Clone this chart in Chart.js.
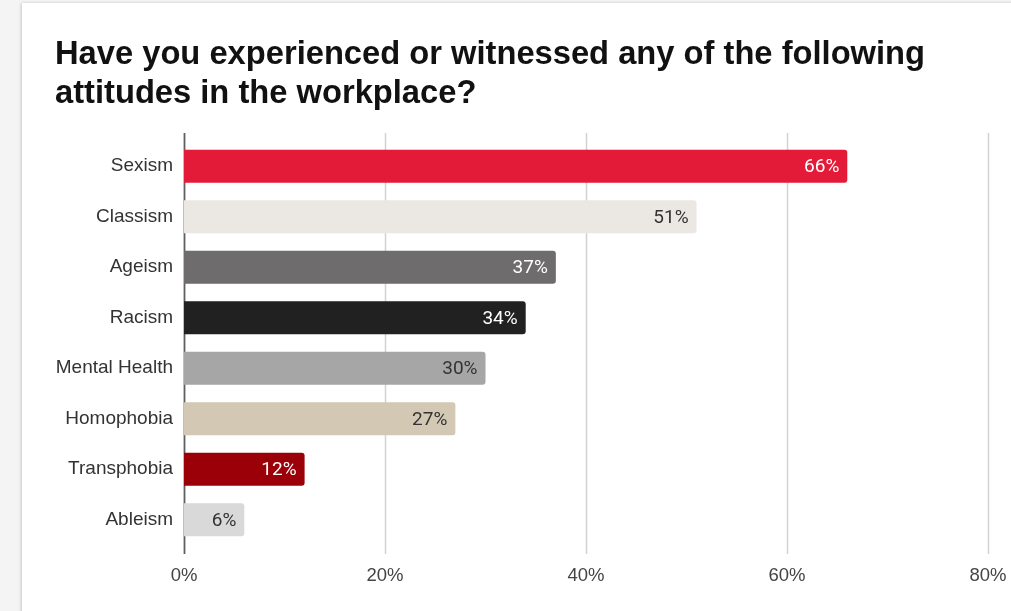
<!DOCTYPE html>
<html>
<head>
<meta charset="utf-8">
<script src="https://cdn.jsdelivr.net/npm/chart.js@4"></script>
<style>
  html, body { margin: 0; padding: 0; background: #f4f4f4; overflow: hidden; }
  #card {
    position: absolute; left: 22px; top: 3px; width: 1100px; height: 700px;
    background: #ffffff; box-shadow: -1px 0 3px rgba(0,0,0,0.18);
  }
  #wrap { position: absolute; left: 0; top: 0; width: 1011px; height: 611px; }
</style>
</head>
<body>
<div id="card"></div>
<div id="wrap"><canvas id="c" width="1011" height="611"></canvas></div>
<script>
const titleLines = ['Have you experienced or witnessed any of the following', 'attitudes in the workplace?'];
const categories = ['Sexism', 'Classism', 'Ageism', 'Racism', 'Mental Health', 'Homophobia', 'Transphobia', 'Ableism'];
const values = [66, 51, 37, 34, 30, 27, 12, 6];
const barColors = ['#e31b38', '#ebe8e4', '#6e6c6c', '#222121', '#a6a6a6', '#d3c8b4', '#9b0008', '#d9d9d9'];
const labelColors = ['#ffffff', '#333333', '#ffffff', '#ffffff', '#333333', '#333333', '#ffffff', '#333333'];
const xTicks = [0, 20, 40, 60, 80];

// Two-line bold heading in the top-left corner
const headingPlugin = {
  id: 'heading',
  afterDraw(chart) {
    const ctx = chart.ctx;
    ctx.save();
    ctx.fillStyle = '#111111';
    ctx.font = 'bold 32.7px "Liberation Sans", Arial, sans-serif';
    ctx.textAlign = 'left';
    ctx.textBaseline = 'alphabetic';
    ctx.fillText(titleLines[0], 55, 64);
    ctx.fillText(titleLines[1], 55, 102.5);
    ctx.restore();
  }
};

// Vertical grid lines, running a little past the plot area
const gridPlugin = {
  id: 'vgrid',
  beforeDatasetsDraw(chart) {
    const ctx = chart.ctx;
    const x = chart.scales.x;
    const area = chart.chartArea;
    ctx.save();
    xTicks.forEach(v => {
      const px = Math.round(x.getPixelForValue(v)) + 0.5;
      ctx.beginPath();
      ctx.strokeStyle = v === 0 ? '#5f5f5f' : '#d2d2d2';
      ctx.lineWidth = v === 0 ? 1.8 : 1.5;
      ctx.moveTo(px, area.top - 8);
      ctx.lineTo(px, area.bottom + 9);
      ctx.stroke();
    });
    ctx.restore();
  }
};

// Percentage text inside the end of each bar
const valueLabelPlugin = {
  id: 'valueLabels',
  afterDatasetsDraw(chart) {
    const ctx = chart.ctx;
    const meta = chart.getDatasetMeta(0);
    ctx.save();
    ctx.font = '19px Roboto, "Liberation Sans", sans-serif';
    ctx.textAlign = 'right';
    ctx.textBaseline = 'middle';
    meta.data.forEach((bar, i) => {
      ctx.fillStyle = labelColors[i];
      ctx.fillText(values[i] + '%', bar.x - 8, bar.y + 1);
    });
    ctx.restore();
  }
};

new Chart(document.getElementById('c'), {
  type: 'bar',
  data: {
    labels: categories,
    datasets: [{
      data: values,
      backgroundColor: barColors,
      borderRadius: 3,
      borderSkipped: 'start',
      categoryPercentage: 1,
      barPercentage: 0.65
    }]
  },
  options: {
    indexAxis: 'y',
    responsive: false,
    animation: false,
    events: [],
    layout: { padding: { left: 10, right: 23, top: 141, bottom: 0 } },
    plugins: { legend: { display: false }, tooltip: { enabled: false }, title: { display: false } },
    scales: {
      x: {
        min: 0, max: 80,
        afterBuildTicks(axis) { axis.ticks = xTicks.map(v => ({ value: v })); },
        afterFit(axis) { axis.height = 611 - 545; axis.paddingRight = 0; axis.paddingLeft = 0; },
        grid: { display: false, drawTicks: false },
        border: { display: false },
        ticks: {
          padding: 20,
          color: '#444444',
          font: { family: '"Liberation Sans", Arial, sans-serif', size: 18.5 },
          callback: v => v + '%'
        }
      },
      y: {
        afterFit(axis) { axis.width = 184 - 10; },
        grid: { display: false, drawTicks: false },
        border: { display: false },
        ticks: {
          padding: 11,
          color: '#333333',
          font: { family: '"Liberation Sans", Arial, sans-serif', size: 19 }
        }
      }
    }
  },
  plugins: [gridPlugin, valueLabelPlugin, headingPlugin]
});
</script>
</body>
</html>
